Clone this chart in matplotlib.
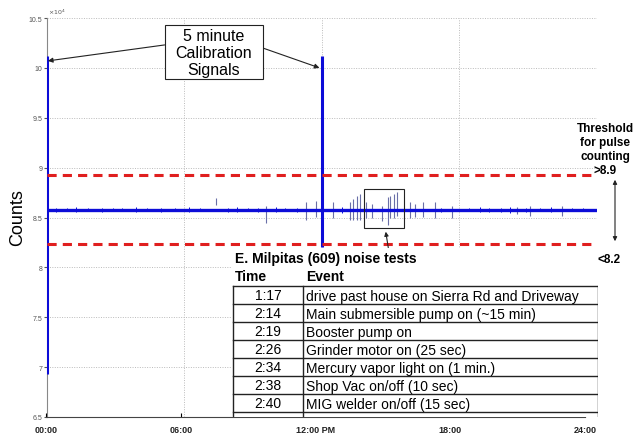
import matplotlib
matplotlib.use('Agg')
import matplotlib.pyplot as plt
from matplotlib.patches import Rectangle

plt.rcParams['font.family'] = ['Liberation Sans', 'DejaVu Sans']

# values in units of 10^4 counts, times in hours
baseline = 8.58
upper_threshold = 8.93
lower_threshold = 8.23

cal_hours = [0.0, 12.0]
cal_hi = [10.12, 10.12]
cal_lo = [6.93, 8.20]

spike_hours = [7.41, 9.56, 11.33, 11.77, 12.48, 13.22, 13.35, 13.52, 13.66, 13.91,
               14.17, 14.61, 14.89, 14.97, 15.14, 15.27, 15.84, 16.06, 16.41, 16.93,
               17.66, 20.50, 21.08, 22.47]
spike_hi = [8.70, 8.62, 8.66, 8.67, 8.66, 8.66, 8.69, 8.72, 8.74, 8.66,
            8.64, 8.62, 8.71, 8.72, 8.74, 8.76, 8.66, 8.64, 8.66, 8.66,
            8.62, 8.61, 8.62, 8.62]
spike_lo = [8.63, 8.44, 8.47, 8.51, 8.49, 8.47, 8.47, 8.47, 8.47, 8.49,
            8.49, 8.46, 8.42, 8.49, 8.49, 8.52, 8.49, 8.51, 8.51, 8.49,
            8.49, 8.54, 8.52, 8.52]

# small wiggles along the trace
wiggle_hours = [0.4, 0.9, 1.3, 1.8, 2.4, 2.9, 3.3, 3.9, 4.4, 5.0, 5.6, 6.2, 6.7,
                7.9, 8.3, 8.8, 9.2, 10.0, 10.4, 10.9, 12.9, 17.2, 18.4, 18.9, 19.3,
                19.8, 20.2, 20.9, 21.5, 22.0, 22.9, 23.4]
wiggle_hi = [8.600, 8.595, 8.605, 8.595, 8.600, 8.595, 8.595, 8.605, 8.595, 8.600, 8.595, 8.605, 8.595,
             8.600, 8.605, 8.595, 8.600, 8.605, 8.595, 8.600, 8.610, 8.600, 8.595, 8.605, 8.600,
             8.600, 8.610, 8.600, 8.595, 8.605, 8.595, 8.595]
wiggle_lo = [8.560, 8.565, 8.555, 8.565, 8.560, 8.565, 8.565, 8.555, 8.565, 8.560, 8.565, 8.555, 8.565,
             8.560, 8.555, 8.565, 8.560, 8.555, 8.565, 8.560, 8.550, 8.560, 8.565, 8.555, 8.560,
             8.560, 8.550, 8.560, 8.565, 8.555, 8.565, 8.565]

y_ticks = [6.5, 7, 7.5, 8, 8.5, 9, 9.5, 10, 10.5]
y_labels = ['6.5', '7', '7.5', '8', '8.5', '9', '9.5', '10', '10.5']
x_ticks = [0, 6, 12, 18, 24]
x_labels = ['00:00', '06:00', '12:00 PM', '18:00', '24:00']

table_title = 'E. Milpitas (609) noise tests'
event_times = ['1:17', '2:14', '2:19', '2:26', '2:34', '2:38', '2:40']
event_names = ['drive past house on Sierra Rd and Driveway',
               'Main submersible pump on (~15 min)',
               'Booster pump on',
               'Grinder motor on (25 sec)',
               'Mercury vapor light on (1 min.)',
               'Shop Vac on/off (10 sec)',
               'MIG welder on/off (15 sec)']

W, H = 635, 435
fig = plt.figure(figsize=(6.35, 4.35), dpi=100)
ax = fig.add_axes([46.5 / W, 1 - 418 / H, (597 - 46.5) / W, (418 - 19) / H])

blue = '#0c0cd8'
ax.hlines(baseline, 0, 24, color=blue, lw=2.4, zorder=3)
ax.vlines(wiggle_hours, wiggle_lo, wiggle_hi, color=blue, lw=0.7, zorder=3)
ax.vlines(spike_hours, spike_lo, spike_hi, color='#6a6fa8', lw=0.8, zorder=2)
ax.vlines(cal_hours, cal_lo, cal_hi, color=blue, lw=2.2, zorder=4)

for thr in [upper_threshold, lower_threshold]:
    ax.axhline(thr, color='#e01f1f', lw=2.2, ls=(0, (3, 2)), zorder=5)

ax.set_xlim(0, 24)
ax.set_ylim(6.5, 10.5)
ax.set_yticks(y_ticks)
ax.set_yticklabels(y_labels)
ax.set_xticks(x_ticks)
ax.tick_params(axis='y', labelsize=5, colors='#555555', length=2, pad=1)
ax.tick_params(axis='x', length=0, labelbottom=False)
ax.grid(True, ls=(0, (1, 1.5)), color='#bbbbbb', lw=0.7)
for s in ['top', 'right', 'bottom']:
    ax.spines[s].set_visible(False)
ax.spines['left'].set_color('#888888')
ax.text(0.002, 1.005, r'$\times 10^4$', transform=ax.transAxes, fontsize=4.5,
        color='#555555', va='bottom')

# noise zoom box
ax.add_patch(Rectangle((13.83, 8.39), 1.75, 0.40, fill=False, ec='#222222', lw=0.8, zorder=6))
ax.annotate('', xy=(14.77, 8.385), xytext=(14.92, 8.17),
            arrowprops=dict(arrowstyle='-|>', color='#222222', lw=0.8, mutation_scale=6), zorder=6)

# callout box
ax.add_patch(Rectangle((5.15, 9.89), 4.27, 0.54, fc='white', ec='#222222', lw=0.8, zorder=7))
ax.text(7.28, 10.155, '5 minute\nCalibration\nSignals', ha='center', va='center', fontsize=11.5,
        linespacing=1.2, zorder=8)
ax.annotate('', xy=(0.06, 10.07), xytext=(5.15, 10.23),
            arrowprops=dict(arrowstyle='-|>', color='#222222', lw=0.8, mutation_scale=7,
                            shrinkA=0, shrinkB=0), zorder=6)
ax.annotate('', xy=(11.9, 10.0), xytext=(9.42, 10.2),
            arrowprops=dict(arrowstyle='-|>', color='#222222', lw=0.8, mutation_scale=7,
                            shrinkA=0, shrinkB=0), zorder=6)

fig.text(18 / W, 1 - 218 / H, 'Counts', rotation=90, ha='center', va='center', fontsize=13)

# separate time axis along the bottom
axb = fig.add_axes([46 / W, 1 - 418 / H, (585 - 46) / W, 0.0001])
axb.set_xlim(0, 24)
axb.set_xticks(x_ticks)
axb.set_xticklabels(x_labels, fontweight='bold', fontsize=6.5, color='#222222')
axb.set_yticks([])
axb.tick_params(axis='x', length=3, direction='in', pad=6)
for s in ['top', 'right', 'left']:
    axb.spines[s].set_visible(False)
axb.spines['bottom'].set_color('#444444')
axb.patch.set_alpha(0)

# threshold notes
fig.text(605 / W, 1 - 150 / H, 'Threshold\nfor pulse\ncounting\n>8.9', ha='center', va='center',
         fontsize=8.5, fontweight='bold', linespacing=1.2, zorder=20)
fig.text(609 / W, 1 - 260 / H, '<8.2', ha='center', va='center', fontsize=8.5,
         fontweight='bold', zorder=20)
fig.add_artist(plt.Annotation('', xy=(615 / W, 1 - 178 / H), xytext=(615 / W, 1 - 245 / H),
                              xycoords='figure fraction', textcoords='figure fraction',
                              arrowprops=dict(arrowstyle='<|-|>', color='#222222', lw=0.8,
                                              mutation_scale=6)))

# event table, laid out in pixel units
axt = fig.add_axes([232 / W, 1 - 418 / H, (598 - 232) / W, (418 - 249) / H])
axt.set_xlim(232, 598)
axt.set_ylim(418, 249)
axt.set_xticks([])
axt.set_yticks([])
for s in axt.spines.values():
    s.set_visible(False)
axt.set_facecolor('white')
axt.set_zorder(10)

axt.text(235, 259, table_title, fontsize=10, fontweight='bold', va='center')
axt.text(235, 277, 'Time', fontsize=10, fontweight='bold', va='center')
axt.text(306, 277, 'Event', fontsize=10, fontweight='bold', va='center')
row_h = 18
top = 287
for i, (t, e) in enumerate(zip(event_times, event_names)):
    y = top + i * row_h
    axt.text(268, y + row_h / 2 + 0.5, t, fontsize=10, ha='center', va='center')
    axt.text(306, y + row_h / 2 + 0.5, e, fontsize=10, ha='left', va='center')
n = len(event_times)
for i in range(n + 1):
    axt.plot([232.5, 597.5], [top + i * row_h] * 2, color='#222222', lw=1.0)
axt.plot([232.5, 232.5], [top, 418], color='#222222', lw=1.0)
axt.plot([597.5, 597.5], [top, 418], color='#222222', lw=1.0)
axt.plot([303, 303], [top, 418], color='#222222', lw=1.0)

fig.savefig('out.png', dpi=100)
